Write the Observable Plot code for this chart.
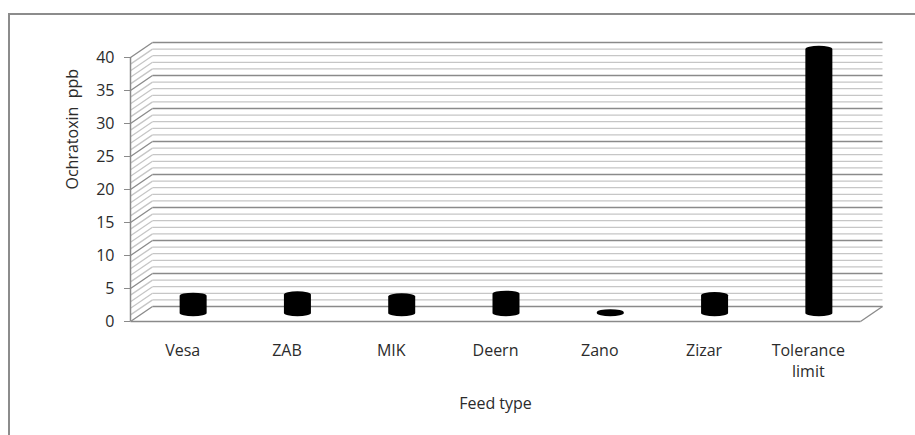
<!DOCTYPE html>
<html>
<head>
<meta charset="utf-8">
<script src="https://cdn.jsdelivr.net/npm/d3@7"></script>
<script src="https://cdn.jsdelivr.net/npm/@observablehq/plot@0.6"></script>
<style>
  html, body { margin: 0; padding: 0; background: #fff; overflow: hidden; }
  body { width: 915px; height: 435px; position: relative; }
  #frame { position: absolute; left: 8px; top: 13px; width: 1000px; height: 600px;
           border: 2px solid #8c8c8c; box-sizing: border-box; }
  #chart { position: absolute; left: 0; top: 0; }
</style>
</head>
<body>
<div id="frame"></div>
<div id="chart"></div>
<script>
// ---- data ----
const categories = ["Vesa", "ZAB", "MIK", "Deern", "Zano", "Zizar", "Tolerance\nlimit"];
const values = [2.6, 2.8, 2.5, 2.9, 0.1, 2.7, 40];
const yTicks = [0, 5, 10, 15, 20, 25, 30, 35, 40];
const minorTicks = [1,2,3,4,6,7,8,9,11,12,13,14,16,17,18,19,21,22,23,24,26,27,28,29,31,32,33,34,36,37,38,39];
const xLabel = "Feed type";
const yLabel = "Ochratoxin  ppb";

// ---- layout ----
const W = 915, H = 435;
const mL = 130, mR = 55, mT = 57, mB = 114;
const n = categories.length;
const pxPerX = (W - mL - mR) / n;
const pxPerY = (H - mT - mB) / 40;
const depthX = 22, depthY = 15;              // 3D wall depth in px
const DX = depthX / pxPerX, DY = depthY / pxPerY; // same in data units
const halfW = 13.5 / pxPerX;                  // cylinder half width

const bars = categories.map((c, i) => ({c, i, v: values[i]}));

const font = "'Open Sans', 'Noto Sans', sans-serif";
const major = "#8a8a8a", minor = "#c6c6c6";
const ink = "#2b2b2b";

const chart = Plot.plot({
  width: W, height: H,
  marginLeft: mL, marginRight: mR, marginTop: mT, marginBottom: mB,
  style: {fontFamily: font, fontSize: "16px", color: ink, background: "transparent", overflow: "visible"},
  x: {type: "linear", domain: [0, n]},
  y: {type: "linear", domain: [0, 40]},
  marks: [
    // back wall gridlines
    Plot.link(minorTicks, {x1: DX, x2: n + DX, y1: d => d + DY, y2: d => d + DY, stroke: minor, strokeWidth: 1.3}),
    Plot.link(yTicks, {x1: DX, x2: n + DX, y1: d => d + DY, y2: d => d + DY, stroke: major, strokeWidth: 1.3}),
    // side wall hatching
    Plot.link(minorTicks, {x1: 0, y1: d => d, x2: DX, y2: d => d + DY, stroke: minor, strokeWidth: 1.3}),
    Plot.link(yTicks, {x1: 0, y1: d => d, x2: DX, y2: d => d + DY, stroke: major, strokeWidth: 1.3}),
    // floor edges
    Plot.link([0], {x1: 0, x2: n, y1: 0, y2: 0, stroke: major, strokeWidth: 1.3}),
    Plot.link([0], {x1: n, x2: n + DX, y1: 0, y2: DY, stroke: major, strokeWidth: 1.3}),
    // y axis line
    Plot.ruleX([0], {y1: 0, y2: 40, stroke: major, strokeWidth: 1.5}),
    // cylinders
    Plot.rect(bars, {
      x1: d => d.i + 0.5 - halfW, x2: d => d.i + 0.5 + halfW,
      y1: 0, y2: d => d.v,
      fill: "#000", rx: 13.5, ry: 3.2,
      insetTop: -3.2, insetBottom: -3.2,
      dx: 11, dy: -8
    }),
    // axes
    Plot.axisY(yTicks, {tickSize: 6, tickPadding: 10, stroke: major, fill: ink, fontSize: 16, label: null}),
    Plot.axisX(bars.map(d => d.i + 0.5), {
      tickSize: 0, tickPadding: 20, fill: ink, fontSize: 16, lineHeight: 1.3, label: null,
      tickFormat: d => categories[Math.floor(d)]
    }),
    // axis titles
    Plot.text([yLabel], {frameAnchor: "left", dx: -58, rotate: -90, fill: ink, fontSize: 16, lineAnchor: "middle"}),
    Plot.text([xLabel], {frameAnchor: "bottom", dy: 82, fill: ink, fontSize: 16, lineAnchor: "middle"})
  ]
});
document.getElementById("chart").appendChild(chart);
</script>
</body>
</html>
